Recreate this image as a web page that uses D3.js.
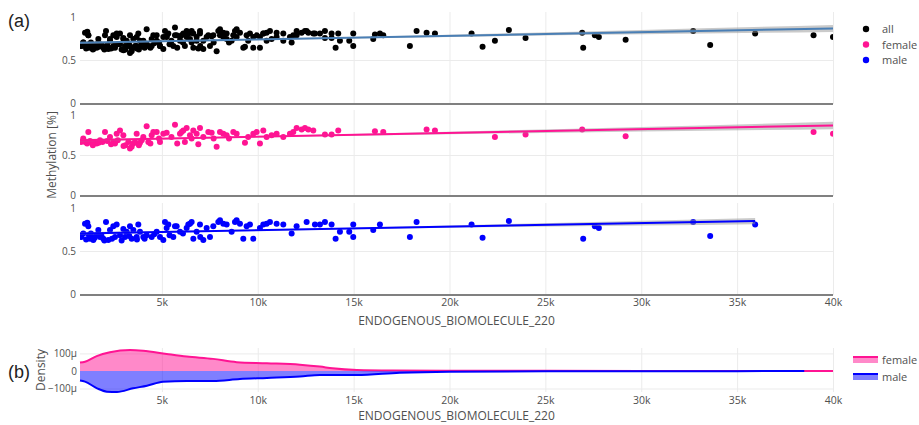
<!DOCTYPE html>
<html>
<head>
<meta charset="utf-8">
<script src="https://cdn.jsdelivr.net/npm/d3@7"></script>
<style>
  body { margin: 0; background: #fff; }
  svg text { font-family: "Open Sans", "DejaVu Sans", sans-serif; }
</style>
</head>
<body>
<svg id="chart" width="919" height="425"></svg>
<script>
// ---- data ----
const xTicks = [5000, 10000, 15000, 20000, 25000, 30000, 35000, 40000];
const yTicks = [0, 0.5, 1];
const densTicks = [-100e-6, 0, 100e-6];
const groups = ["all", "female", "male"];

// [x, methylation]
const femalePoints = [
  [782,0.66],[1165,0.78],[1338,0.65],[1599,0.64],[1773,0.68],[2033,0.78],[2294,0.72],[2468,0.66],
  [2555,0.64],[2642,0.76],[2816,0.80],[2990,0.74],[3250,0.66],[3337,0.58],[3424,0.60],[3511,0.64],
  [3685,0.76],[3858,0.65],[4032,0.72],[4206,0.85],[4293,0.66],[4467,0.74],[4554,0.78],[4728,0.78],
  [4901,0.66],[5075,0.76],[5249,0.77],[5683,0.87],[5944,0.76],[6031,0.78],[6118,0.80],[6292,0.83],
  [6466,0.74],[6553,0.70],[6640,0.80],[6813,0.76],[6987,0.83],[7161,0.72],[7422,0.78],[7596,0.77],
  [7856,0.60],[8030,0.78],[8204,0.76],[8378,0.74],[8725,0.78],[8899,0.76],[9333,0.65],[9768,0.76],
  [9942,0.78],[10115,0.64],[10289,0.80],[10463,0.72],[10724,0.74],[10984,0.76],[11332,0.72],[11679,0.76],
  [11853,0.78],[12027,0.83],
  [1000,0.66],[1100,0.64],[1250,0.67],[1450,0.66],[1700,0.65],[1900,0.66],[2150,0.67],[2350,0.63],
  [2700,0.68],[3100,0.62],[3600,0.66],[3950,0.68],[4400,0.64],[4850,0.70],[5500,0.72],[6200,0.66],
  [6900,0.63],[7700,0.70],[900,0.70],[1400,0.62],[3000,0.61],[3800,0.62],[5800,0.64],[8500,0.70],[9500,0.72],
  [12289,0.81],[12462,0.83],[12636,0.81],[12896,0.80],[13504,0.75],[13851,0.75],[14198,0.80],[16111,0.79],
  [16545,0.78],[18805,0.81],[19240,0.80],[22368,0.72],[23966,0.75],[26919,0.81],[29185,0.73],[38985,0.78],
  [40000,0.76]
];
const malePoints = [
  [903,0.70],[991,0.81],[1112,0.82],[1165,0.78],[1251,0.64],[1338,0.66],[1425,0.625],[1599,0.68],
  [1686,0.74],[1773,0.66],[1947,0.64],[2086,0.83],[2207,0.625],[2294,0.74],[2468,0.78],[2555,0.66],
  [2642,0.80],[2816,0.68],[2990,0.75],[3076,0.66],[3163,0.72],[3337,0.78],[3424,0.64],[3511,0.74],
  [3685,0.66],[3771,0.80],[3858,0.72],[4032,0.66],[4206,0.68],[4467,0.66],[4728,0.72],[4901,0.66],
  [5075,0.625],[5162,0.83],[5249,0.76],[5336,0.80],[5596,0.66],[5683,0.78],[5770,0.78],[5944,0.72],
  [6292,0.76],[6379,0.80],[6466,0.81],[6553,0.83],[6640,0.64],[6813,0.72],[6987,0.80],[7161,0.625],
  [7335,0.76],[7509,0.66],[7682,0.78],[7943,0.83],[8030,0.85],[8204,0.81],[8378,0.80],[8638,0.72],
  [8812,0.83],[8899,0.85],[9072,0.81],[9246,0.64],[9420,0.78],[9594,0.80],[9768,0.64],[10115,0.76],
  [10289,0.80],[10463,0.81],[10637,0.83],[10984,0.81],[11332,0.80],[11766,0.70],[12027,0.78],
  [800,0.66],[1050,0.63],[1200,0.68],[1500,0.65],[1850,0.67],[2400,0.64],[2900,0.62],[3300,0.67],
  [4100,0.64],[4600,0.69],[1300,0.70],[2000,0.62],[3700,0.63],[5400,0.68],[6100,0.70],[7000,0.66],
  [12549,0.83],[12983,0.80],[13244,0.80],[13504,0.83],[13851,0.80],[14060,0.64],[14286,0.72],[14772,0.72],
  [14980,0.80],[14980,0.66],[16023,0.74],[16371,0.80],[17935,0.66],[18283,0.83],[21151,0.80],[21724,0.65],
  [23097,0.84],[26972,0.64],[27581,0.78],[27789,0.76],[32707,0.83],[33594,0.67],[35940,0.80]
];

// regression lines and confidence bands
const allFitX = [730, 40000];
const allFitY = [0.695, 0.858];
const allCiX = [730, 8000, 20000, 30000, 40000];
const allCiLo = [0.682, 0.718, 0.762, 0.792, 0.818];
const allCiHi = [0.708, 0.732, 0.788, 0.842, 0.898];

const femaleFitX = [730, 40000];
const femaleFitY = [0.68, 0.86];
const femaleCiX = [730, 8000, 20000, 30000, 40000];
const femaleCiLo = [0.665, 0.705, 0.753, 0.786, 0.815];
const femaleCiHi = [0.695, 0.721, 0.783, 0.842, 0.905];

const maleFitX = [730, 35940];
const maleFitY = [0.70, 0.84];
const maleCiX = [730, 8000, 20000, 30000, 35940];
const maleCiLo = [0.685, 0.721, 0.763, 0.789, 0.805];
const maleCiHi = [0.715, 0.737, 0.791, 0.843, 0.875];

// density (per unit x)
const femaleDensX = [730, 990, 1600, 2290, 3340, 4020, 5250, 6300, 7670, 8900, 10480, 12200, 13240, 13900, 15170, 17000, 20000, 25000, 30000, 35000, 40000];
const femaleDens = [48, 53, 85, 107, 120, 116, 97, 82, 69, 50, 44, 36, 25, 15, 5, 2, 1, 1, 0.5, 0.5, 0.3];
const maleDensX = [730, 990, 1620, 2130, 2660, 3500, 4220, 5060, 6300, 7670, 9070, 10480, 12200, 13240, 15170, 17400, 20000, 25000, 30000, 35000, 38500];
const maleDens = [-55, -61, -99, -118, -120, -99, -84, -61, -57, -57, -46, -40, -32, -23, -23, -10, -4, -2, -1, -1, -0.5];

// ---- drawing ----
const svg = d3.select("#chart");
const left = 80, right = 833;
const x = d3.scaleLinear().domain([730, 40000]).range([left, right]);
const fmtK = d3.format("~s");
const tickFont = 10.5;
const textColor = "#505050";

const series = {
  all:    { color: "#000000", line: "#4a7fb5", points: femalePoints.concat(malePoints),
            fitX: allFitX, fitY: allFitY, ciX: allCiX, ciLo: allCiLo, ciHi: allCiHi, top: 16, bottom: 104 },
  female: { color: "#ff1493", line: "#ff1493", points: femalePoints,
            fitX: femaleFitX, fitY: femaleFitY, ciX: femaleCiX, ciLo: femaleCiLo, ciHi: femaleCiHi, top: 114, bottom: 196 },
  male:   { color: "#0000ff", line: "#0000ff", points: malePoints,
            fitX: maleFitX, fitY: maleFitY, ciX: maleCiX, ciLo: maleCiLo, ciHi: maleCiHi, top: 207, bottom: 295 }
};

function styleGrid(g) {
  g.select(".domain").remove();
  g.selectAll("line").attr("stroke", "#ebebeb").attr("stroke-width", 1);
}

groups.forEach((name, i) => {
  const s = series[name];
  const y = d3.scaleLinear().domain([0, 1]).range([s.bottom, s.top]);

  // grid
  svg.append("g")
    .attr("transform", `translate(0,${s.bottom})`)
    .call(d3.axisBottom(x).tickValues(xTicks).tickSize(-(s.bottom - s.top + 4)).tickFormat(""))
    .call(styleGrid);
  svg.append("g")
    .attr("transform", `translate(${left},0)`)
    .call(d3.axisLeft(y).tickValues([0.5]).tickSize(-(right - left)).tickFormat(""))
    .call(styleGrid);

  // y tick labels
  svg.append("g")
    .attr("transform", `translate(${left},0)`)
    .call(d3.axisLeft(y).tickValues(yTicks).tickSize(0).tickPadding(4).tickFormat(d3.format("~g")))
    .call(g => g.select(".domain").remove())
    .selectAll("text")
    .attr("fill", textColor)
    .attr("font-size", 10)
    .attr("dy", d => d === 1 ? "0.45em" : (d === 0 ? "0.2em" : "0.32em"));

  // baseline at y = 0
  svg.append("line")
    .attr("x1", left).attr("x2", right)
    .attr("y1", y(0)).attr("y2", y(0))
    .attr("stroke", "#808080").attr("stroke-width", 2);

  const clipId = "clip-" + name;
  svg.append("clipPath").attr("id", clipId)
    .append("rect")
    .attr("x", left).attr("y", s.top - 10)
    .attr("width", right - left).attr("height", s.bottom - s.top + 10);

  const layer = svg.append("g").attr("clip-path", `url(#${clipId})`);

  layer.selectAll("circle")
    .data(s.points)
    .enter()
    .append("circle")
    .attr("cx", d => x(d[0]))
    .attr("cy", d => y(d[1]))
    .attr("r", 3)
    .attr("fill", s.color);

  const band = d3.area()
    .x(d => x(d))
    .y0((d, k) => y(s.ciLo[k]))
    .y1((d, k) => y(s.ciHi[k]))
    .curve(d3.curveMonotoneX);
  layer.append("path")
    .datum(s.ciX)
    .attr("d", band)
    .attr("fill", "rgba(150,150,150,0.5)");

  layer.append("path")
    .datum(s.fitX.map((v, k) => [v, s.fitY[k]]))
    .attr("d", d3.line().x(d => x(d[0])).y(d => y(d[1])))
    .attr("fill", "none")
    .attr("stroke", s.line)
    .attr("stroke-width", 2);

  // legend (top right)
  svg.append("circle")
    .attr("cx", 866).attr("cy", 29 + i * 15.5)
    .attr("r", 3.2)
    .attr("fill", s.color);
  svg.append("text")
    .attr("x", 882).attr("y", 29 + i * 15.5 + 4)
    .attr("font-size", 11)
    .attr("fill", textColor)
    .text(name);
});

// shared x axis labels (panel a)
svg.append("g")
  .attr("transform", `translate(0,${series.male.bottom})`)
  .call(d3.axisBottom(x).tickValues(xTicks).tickSize(0).tickPadding(4).tickFormat(fmtK))
  .call(g => g.select(".domain").remove())
  .selectAll("text")
  .attr("fill", textColor)
  .attr("font-size", tickFont);

svg.append("text")
  .attr("x", (left + right) / 2).attr("y", 325)
  .attr("text-anchor", "middle")
  .attr("font-size", 12)
  .attr("fill", textColor)
  .text("ENDOGENOUS_BIOMOLECULE_220");

svg.append("text")
  .attr("transform", "translate(56,155) rotate(-90)")
  .attr("text-anchor", "middle")
  .attr("font-size", 12)
  .attr("fill", textColor)
  .text("Methylation [%]");

svg.append("text")
  .attr("x", 8).attr("y", 27)
  .attr("font-size", 18)
  .attr("fill", "#222")
  .style("font-family", "'Liberation Sans', Arial, sans-serif")
  .text("(a)");

// ---- density panel (b) ----
const dTop = 348, dBottom = 392;
const yD = d3.scaleLinear().domain([-120e-6, 131e-6]).range([dBottom, dTop]);

svg.append("g")
  .attr("transform", `translate(0,${dBottom})`)
  .call(d3.axisBottom(x).tickValues(xTicks).tickSize(-(dBottom - dTop)).tickFormat(""))
  .call(styleGrid);
svg.append("g")
  .attr("transform", `translate(${left},0)`)
  .call(d3.axisLeft(yD).tickValues([-100e-6, 100e-6]).tickSize(-(right - left)).tickFormat(""))
  .call(styleGrid);

svg.append("g")
  .attr("transform", `translate(${left},0)`)
  .call(d3.axisLeft(yD).tickValues(densTicks).tickSize(0).tickPadding(3).tickFormat(fmtK))
  .call(g => g.select(".domain").remove())
  .selectAll("text")
  .attr("fill", textColor)
  .attr("font-size", 10);

const densArea = d3.area()
  .x(d => x(d[0]))
  .y0(yD(0))
  .y1(d => yD(d[1] * 1e-6))
  .curve(d3.curveMonotoneX);
const densLine = d3.line()
  .x(d => x(d[0]))
  .y(d => yD(d[1] * 1e-6))
  .curve(d3.curveMonotoneX);

const densSeries = [
  { name: "female", xs: femaleDensX, ys: femaleDens, fill: "rgba(255,20,147,0.5)", stroke: "#ff1493" },
  { name: "male", xs: maleDensX, ys: maleDens, fill: "rgba(0,0,255,0.5)", stroke: "#0000ff" }
];

densSeries.forEach((d, i) => {
  const pts = d.xs.map((v, k) => [v, d.ys[k]]);
  svg.append("path").datum(pts).attr("d", densArea).attr("fill", d.fill);
  svg.append("path").datum(pts).attr("d", densLine)
    .attr("fill", "none").attr("stroke", d.stroke).attr("stroke-width", 2);

  const ly = 360 + i * 17;
  svg.append("rect")
    .attr("x", 853).attr("y", ly - 3).attr("width", 25).attr("height", 6)
    .attr("fill", d.fill);
  svg.append("line")
    .attr("x1", 853).attr("x2", 878).attr("y1", ly - 3).attr("y2", ly - 3)
    .attr("stroke", d.stroke).attr("stroke-width", 2);
  svg.append("text")
    .attr("x", 882).attr("y", ly + 4)
    .attr("font-size", 11)
    .attr("fill", textColor)
    .text(d.name);
});

svg.append("g")
  .attr("transform", `translate(0,${dBottom})`)
  .call(d3.axisBottom(x).tickValues(xTicks).tickSize(0).tickPadding(5).tickFormat(fmtK))
  .call(g => g.select(".domain").remove())
  .selectAll("text")
  .attr("fill", textColor)
  .attr("font-size", tickFont);

svg.append("text")
  .attr("x", (left + right) / 2).attr("y", 420)
  .attr("text-anchor", "middle")
  .attr("font-size", 12)
  .attr("fill", textColor)
  .text("ENDOGENOUS_BIOMOLECULE_220");

svg.append("text")
  .attr("transform", "translate(45,370) rotate(-90)")
  .attr("text-anchor", "middle")
  .attr("font-size", 12)
  .attr("fill", textColor)
  .text("Density");

svg.append("text")
  .attr("x", 8).attr("y", 378)
  .attr("font-size", 18)
  .attr("fill", "#222")
  .style("font-family", "'Liberation Sans', Arial, sans-serif")
  .text("(b)");
</script>
</body>
</html>
